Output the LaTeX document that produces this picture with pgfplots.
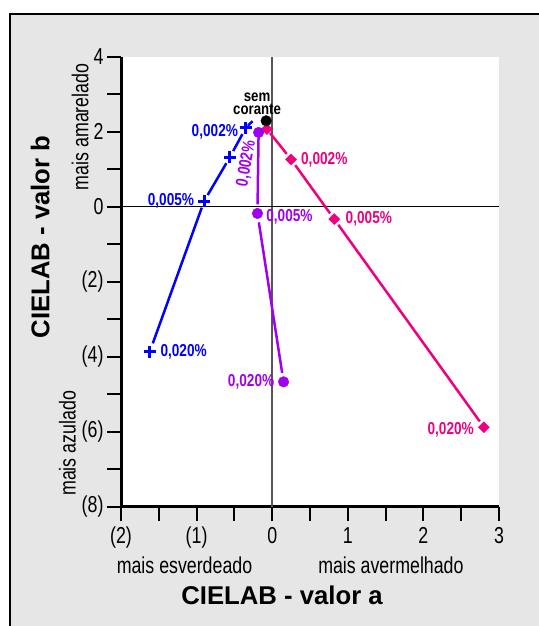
\documentclass[border=0pt]{standalone}
\usepackage{pgfplots}
\pgfplotsset{compat=1.18}
\usepackage{fontspec}
\setmainfont{Liberation Sans}
\newfontfamily\nsans[FakeStretch=0.85]{Liberation Sans}
\newfontfamily\lsans[FakeStretch=0.83]{Liberation Sans}
\newcommand\lbl{\lsans\bfseries\fontsize{16.5}{18}\selectfont}
\newcommand\desc{\nsans\fontsize{21}{24}\selectfont}
\newcommand\ttl{\bfseries\fontsize{25.8}{28}\selectfont}
\definecolor{cblue}{HTML}{0000FF}
\definecolor{cpurple}{HTML}{A000F0}
\definecolor{cpink}{HTML}{F0007F}
\definecolor{bggrey}{HTML}{E6E6E6}
\definecolor{zgrey}{HTML}{555555}
\begin{document}
\begin{tikzpicture}[x=1bp,y=1bp]
\useasboundingbox (0,0) rectangle (539,626);
\fill[white] (0,0) rectangle (539,626);
\fill[bggrey] (10,0) rectangle (539,612);
\draw[line width=2.5bp] (10,0) -- (10,612) -- (539,612);
\begin{axis}[
 at={(121bp,119.3bp)}, anchor=south west,
 scale only axis, width=378bp, height=450bp,
 xmin=-2,xmax=3,ymin=-8,ymax=4,
 axis background/.style={fill=white},
 axis lines*=left,
 axis line style={-, line width=3bp, black},
 xtick={-2,-1,0,1,2,3}, xticklabels={(2),(1),0,1,2,3},
 minor xtick={-1.5,-0.5,0.5,1.5,2.5},
 ytick={-8,-6,-4,-2,0,2,4}, yticklabels={(8),(6),(4),(2),0,2,4},
 minor ytick={-7,-5,-3,-1,1,3},
 tick align=outside,
 major tick length=14bp, minor tick length=14bp,
 tick style={black, line width=2bp},
 /pgf/number format/assume math mode=true,
 tick label style={font=\desc, yscale=1.1},
 xticklabel style={yshift=-2.5bp},
 clip=false,
 seg/.style={no markers, line width=2.5bp, shorten <=7bp, shorten >=7bp},
]
% zero lines
\draw[zgrey, line width=2bp] (axis cs:0,-8) -- (axis cs:0,4);
\draw[black, line width=1.2bp] (axis cs:-2,0) -- (axis cs:3,0);
% blue
\addplot[cblue, seg, shorten <=0bp, shorten >=3bp] coordinates {(-0.26,2.28) (-0.35,2.10)};
\addplot[cblue, seg] coordinates {(-0.35,2.10) (-0.56,1.32)};
\addplot[cblue, seg] coordinates {(-0.56,1.32) (-0.90,0.15)};
\addplot[cblue, seg, shorten >=9bp] coordinates {(-0.90,0.15) (-1.62,-3.87)};
\addplot[cblue, only marks, mark=+, mark size=6bp, mark options={line width=3bp}] coordinates {(-0.35,2.10) (-0.56,1.32) (-0.90,0.15) (-1.62,-3.87)};
% pink
\addplot[cpink, seg, shorten <=5bp] coordinates {(-0.07,2.07) (0.25,1.26)};
\addplot[cpink, seg] coordinates {(0.25,1.26) (0.82,-0.33)};
\addplot[cpink, seg] coordinates {(0.82,-0.33) (2.80,-5.88)};
\addplot[cpink, only marks, mark=square*, mark size=3.9bp, mark options={rotate=45}] coordinates {(-0.07,2.07) (0.25,1.26) (0.82,-0.33) (2.80,-5.88)};
% purple
\addplot[cpurple, seg, shorten <=5bp, shorten >=9bp] coordinates {(-0.18,1.98) (-0.195,-0.18)};
\addplot[cpurple, seg, shorten <=9bp, shorten >=9bp] coordinates {(-0.195,-0.18) (0.15,-4.67)};
\addplot[cpurple, only marks, mark=*, mark size=5.3bp] coordinates {(-0.18,1.98) (-0.195,-0.18) (0.15,-4.67)};
% sem corante
\addplot[black, only marks, mark=*, mark size=5.3bp] coordinates {(-0.08,2.29)};
% labels
\node[cblue, anchor=east, inner sep=0pt, font=\lbl, yscale=1.05] at (axis cs:-0.45,2.0) {0,002\%};
\node[cblue, anchor=east, inner sep=0pt, font=\lbl, yscale=1.05] at (axis cs:-1.03,0.15) {0,005\%};
\node[cblue, anchor=west, inner sep=0pt, font=\lbl, yscale=1.05] at (axis cs:-1.48,-3.88) {0,020\%};
\node[cpurple, rotate=80, inner sep=0pt, font=\lbl, yscale=1.05] at (axis cs:-0.34,1.15) {0,002\%};
\node[cpurple, anchor=west, inner sep=0pt, font=\lbl, yscale=1.05] at (axis cs:-0.08,-0.28) {0,005\%};
\node[cpurple, anchor=east, inner sep=0pt, font=\lbl, yscale=1.05] at (axis cs:0.03,-4.67) {0,020\%};
\node[cpink, anchor=west, inner sep=0pt, font=\lbl, yscale=1.05] at (axis cs:0.38,1.25) {0,002\%};
\node[cpink, anchor=west, inner sep=0pt, font=\lbl, yscale=1.05] at (axis cs:0.97,-0.33) {0,005\%};
\node[cpink, anchor=east, inner sep=0pt, font=\lbl, yscale=1.05] at (axis cs:2.67,-5.95) {0,020\%};
\node[black, align=center, inner sep=0pt, font=\lsans\bfseries\fontsize{16}{12.7}\selectfont] at (axis cs:-0.2,2.75) {sem\\corante};
% descriptions
\node[font=\desc, inner sep=0pt, yscale=1.1] at (axis cs:-1.16,-9.55) {mais esverdeado};
\node[font=\desc, inner sep=0pt, yscale=1.1] at (axis cs:1.57,-9.55) {mais avermelhado};
\node[font=\ttl, inner sep=0pt] at (axis cs:0.13,-10.35) {CIELAB - valor a};
\node[font=\desc, inner sep=0pt, rotate=90, yscale=1.1] at (axis cs:-2.54,2.13) {mais amarelado};
\node[font=\desc, inner sep=0pt, rotate=90, yscale=1.1] at (axis cs:-2.71,-6.31) {mais azulado};
\node[font=\ttl, inner sep=0pt, rotate=90] at (axis cs:-3.07,-0.81) {CIELAB - valor b};
\end{axis}
\end{tikzpicture}
\end{document}
